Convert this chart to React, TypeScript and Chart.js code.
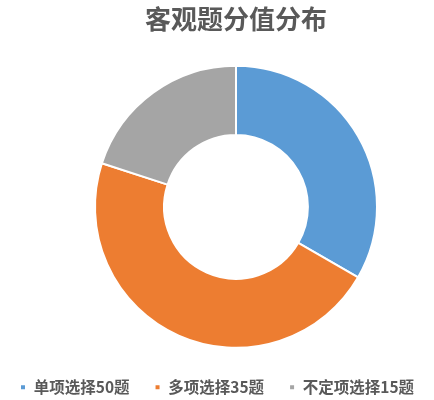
import { useEffect, useRef } from "react";
import { Chart, registerables, type ChartConfiguration } from "chart.js";

Chart.register(...registerables);

const TITLE = "客观题分值分布";
const CATEGORIES = ["单项选择50题", "多项选择35题", "不定项选择15题"];
const SCORES = [50, 70, 30];
const COLORS = ["#5B9BD5", "#ED7D31", "#A5A5A5"];

const FONT = "'Noto Sans CJK SC', 'Noto Sans', sans-serif";

export default function App() {
  const canvasRef = useRef<HTMLCanvasElement>(null);

  useEffect(() => {
    document.body.style.margin = "0";
    if (!canvasRef.current) return;

    const config: ChartConfiguration<"doughnut"> = {
      type: "doughnut",
      data: {
        labels: CATEGORIES,
        datasets: [
          {
            data: SCORES,
            backgroundColor: COLORS,
            borderColor: "#ffffff",
            borderWidth: 2,
            radius: 141,
            cutout: "51%",
          },
        ],
      },
      options: {
        animation: false,
        responsive: true,
        maintainAspectRatio: false,
        layout: { padding: 0 },
        plugins: {
          title: {
            display: true,
            text: TITLE,
            color: "#595959",
            font: { family: FONT, size: 26, weight: "bold" },
            padding: { top: 4, bottom: 24 },
          },
          legend: {
            position: "bottom",
            align: "start",
            labels: {
              boxWidth: 6,
              boxHeight: 6,
              padding: 25,
              color: "#595959",
              font: { family: FONT, size: 15.5, weight: "bold" },
            },
          },
          tooltip: { enabled: false },
        },
      },
    };

    const chart = new Chart(canvasRef.current, config);
    return () => chart.destroy();
  }, []);

  return (
    <div style={{ width: 434, height: 400, overflow: "hidden", background: "#fff" }}>
      <div style={{ width: 482, height: 405, marginLeft: -5, position: "relative" }}>
        <canvas ref={canvasRef} />
      </div>
    </div>
  );
}
